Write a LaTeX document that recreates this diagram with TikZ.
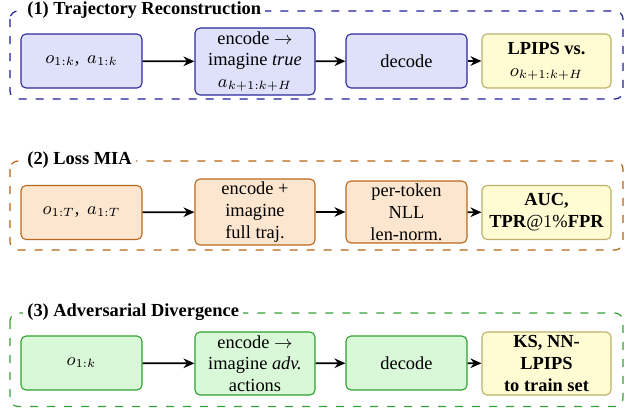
\documentclass[tikz,border=0pt]{standalone}
\usepackage{fontspec}
\setmainfont{Liberation Serif}
\usetikzlibrary{arrows.meta}
\definecolor{bfill}{HTML}{DFE0FA}
\definecolor{bdraw}{HTML}{2B2B9E}
\definecolor{bdash}{HTML}{1E1E9C}
\definecolor{ofill}{HTML}{FDE6CF}
\definecolor{odraw}{HTML}{B8691E}
\definecolor{odash}{HTML}{B8620F}
\definecolor{gfill}{HTML}{D8F8D8}
\definecolor{gdraw}{HTML}{2EA02E}
\definecolor{gdash}{HTML}{36A036}
\definecolor{yfill}{HTML}{FFFBD3}
\definecolor{ydraw}{HTML}{BDB168}
\tikzset{
  x=0.5pt, y=-0.5pt,
  every node/.style={font=\fontsize{9.2}{10.9}\selectfont},
  box/.style={rectangle, rounded corners=2.5pt, line width=0.55pt, align=center,
    inner sep=1pt, minimum width=60.5pt, minimum height=27pt},
  tall/.style={minimum height=33.5pt},
  wide/.style={minimum width=64.5pt},
  bluebox/.style={box, fill=bfill, draw=bdraw},
  orangebox/.style={box, fill=ofill, draw=odraw},
  greenbox/.style={box, fill=gfill, draw=gdraw},
  yellowbox/.style={box, fill=yfill, draw=ydraw, wide, font=\fontsize{9.2}{10.9}\selectfont\bfseries},
  groupbox/.style={rounded corners=4pt, line width=0.6pt, dash pattern=on 4pt off 4.5pt},
  grouptitle/.style={anchor=base west, fill=white, inner xsep=2pt, inner ysep=1pt,
    font=\fontsize{9.2}{10.9}\selectfont\bfseries},
  arr/.style={line width=0.85pt, -{Stealth[length=5.5pt,width=4.8pt]}},
}
\begin{document}
\begin{tikzpicture}
\useasboundingbox (0,0) rectangle (627,408);

% Row 1
\draw[groupbox, draw=bdash] (10,11) rectangle (623,99);
\node[grouptitle] (t1) at (23,14) {(1) Trajectory Reconstruction};
\node[bluebox] (a1) at (81.5,61) {$o_{1:k}$,\, $a_{1:k}$};
\node[bluebox, tall, minimum width=60pt] (a2) at (255,61.5) {encode $\rightarrow$\\ imagine \textit{true}\\ $a_{k+1:k+H}$};
\node[bluebox] (a3) at (406.5,61) {decode};
\node[yellowbox] (a4) at (546.5,61) {LPIPS vs.\\ \mdseries$o_{k+1:k+H}$};
\draw[arr] (a1) -- (a2);
\draw[arr] (a2) -- (a3);
\draw[arr] (a3) -- (a4);

% Row 2
\draw[groupbox, draw=odash] (10,161) rectangle (623,250);
\node[grouptitle] (t2) at (23,164.5) {(2) Loss MIA};
\node[orangebox] (b1) at (81.5,212.5) {$o_{1:T}$,\, $a_{1:T}$};
\node[orangebox, minimum height=33pt, minimum width=60pt] (b2) at (255,212) {encode +\\ imagine\\ full traj.};
\node[orangebox, minimum height=31pt] (b3) at (406.5,212) {per-token\\ NLL\\ len-norm.};
\node[yellowbox] (b4) at (546.5,212.5) {AUC,\\ TPR\mdseries$@1\%$\bfseries FPR};
\draw[arr] (b1) -- (b2);
\draw[arr] (b2) -- (b3);
\draw[arr] (b3) -- (b4);

% Row 3
\draw[groupbox, draw=gdash] (10,313) rectangle (623,406.5);
\node[grouptitle] (t3) at (23,316) {(3) Adversarial Divergence};
\node[greenbox] (c1) at (81.5,363) {$o_{1:k}$};
\node[greenbox, minimum height=31.5pt, minimum width=60pt] (c2) at (255,363.5) {encode $\rightarrow$\\ imagine \textit{adv.}\\ actions};
\node[greenbox] (c3) at (406.5,363) {decode};
\node[yellowbox, minimum height=31.5pt] (c4) at (546.5,363.5) {KS, NN-\\ LPIPS\\ to train set};
\draw[arr] (c1) -- (c2);
\draw[arr] (c2) -- (c3);
\draw[arr] (c3) -- (c4);
\end{tikzpicture}
\end{document}
